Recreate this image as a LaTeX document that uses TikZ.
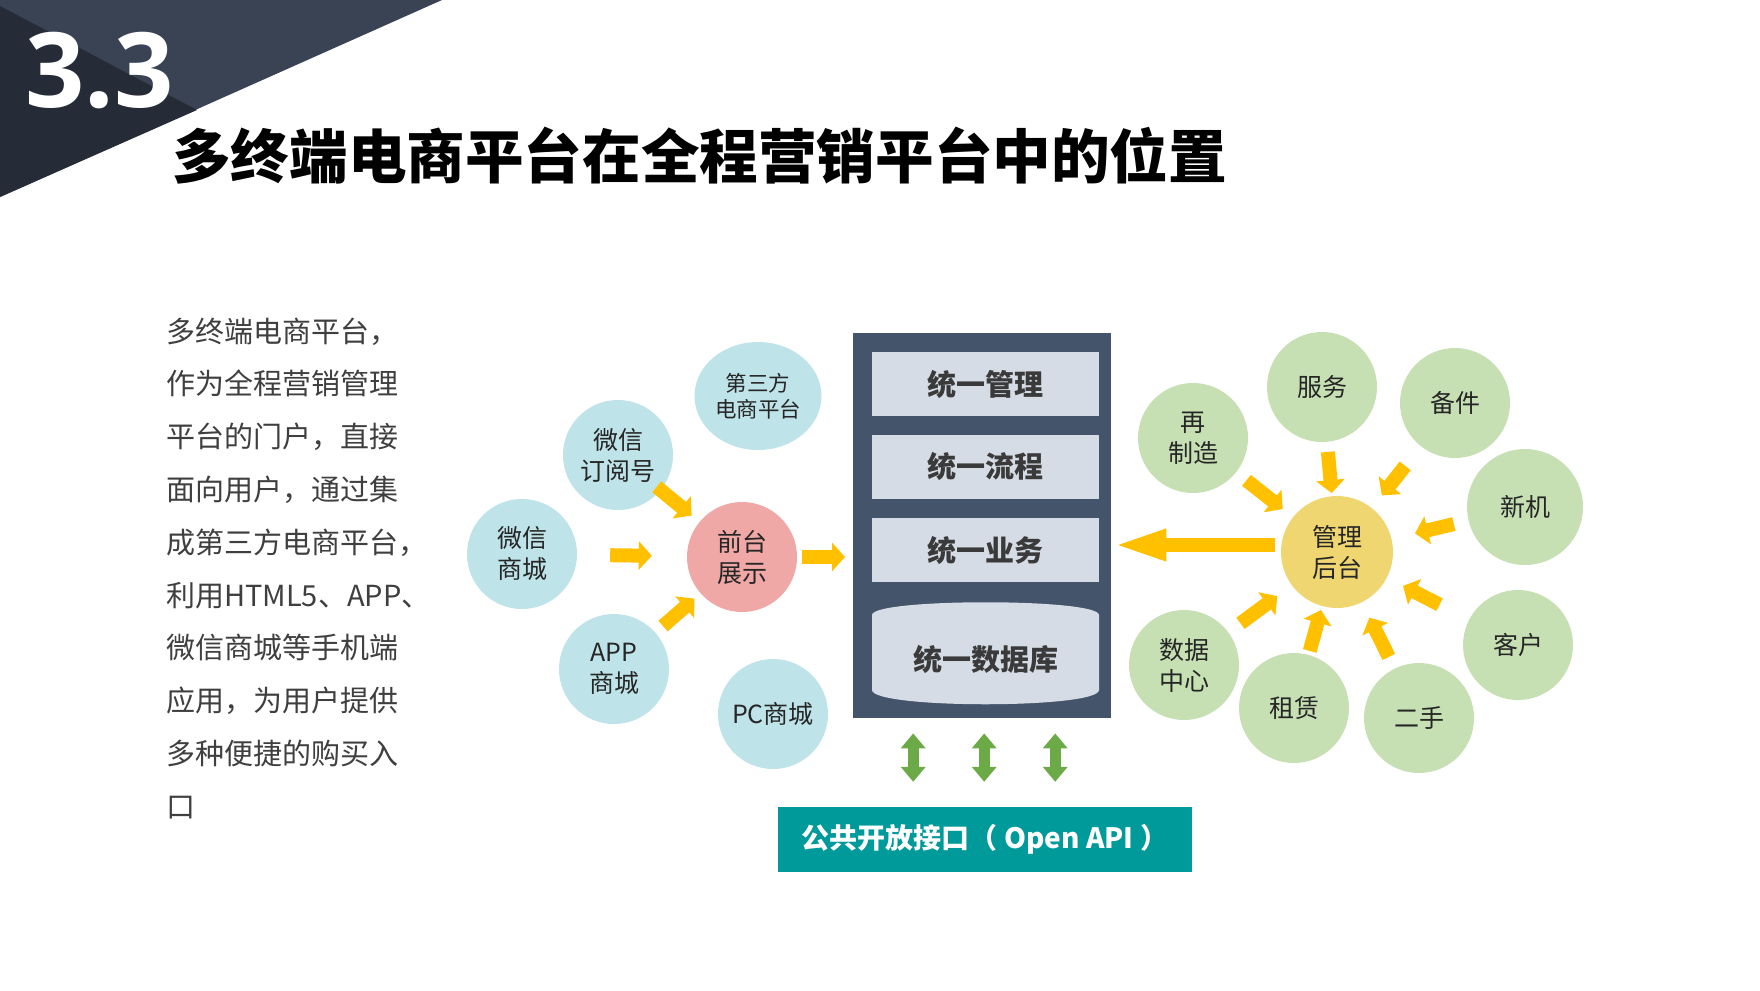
\documentclass[tikz,border=0pt]{standalone}
\usepackage{fontspec}
\setmainfont{Noto Sans CJK SC}
\newfontfamily\numfont{Open Sans}
\usetikzlibrary{arrows.meta,calc,shapes.geometric}
\definecolor{bandlight}{HTML}{3A4354}
\definecolor{banddark}{HTML}{262C37}
\definecolor{lblue}{HTML}{BEE3E8}
\definecolor{pinkc}{HTML}{EFA8A6}
\definecolor{greenc}{HTML}{C6E0B4}
\definecolor{mgrc}{HTML}{EFD671}
\definecolor{yel}{HTML}{FFC000}
\definecolor{slate}{HTML}{44546A}
\definecolor{inner}{HTML}{D6DCE5}
\definecolor{tealc}{HTML}{009A9A}
\definecolor{grn}{HTML}{6CAA48}
\definecolor{boxtxt}{HTML}{3A3A3A}
\definecolor{bodytxt}{HTML}{3F3F3F}
\definecolor{ctxt}{HTML}{262626}
\begin{document}
\begin{tikzpicture}[x=1pt,y=-1pt,
  bubble/.style={circle, minimum size=110, inner sep=0, align=center, text=ctxt,
    font=\fontsize{25}{31}\selectfont},
  bluebub/.style={bubble, fill=lblue},
  greenbub/.style={bubble, fill=greenc},
  yarr/.style={draw=yel, line width=14, -{Triangle[length=13pt,width=28pt]}},
  bigarr/.style={draw=yel, line width=14, -{Triangle[length=55pt,width=28pt]}},
  garr/.style={draw=grn, line width=11, {Triangle[length=15pt,width=24pt]}-{Triangle[length=15pt,width=24pt]}},
  innerbox/.style={fill=inner, minimum width=227, minimum height=64, inner sep=0,
    text=boxtxt, font=\bfseries\fontsize{29}{29}\selectfont},
  bodyline/.style={anchor=base west, inner sep=0, text=bodytxt, font=\fontsize{29}{29}\selectfont}
]
\useasboundingbox (0,0) rectangle (1760,990);
\fill[white] (0,0) rectangle (1760,990);

% header band
\fill[bandlight] (0,0) -- (442,0) -- (0,197) -- cycle;
\fill[banddark] (0,6) -- (197,110) -- (0,197) -- cycle;
\node[anchor=base west, inner sep=0, text=white, font=\numfont\bfseries\fontsize{104}{104}\selectfont] (num) at (25,107) {3.3};
\node[anchor=west, inner sep=0, text=black, font=\bfseries\fontsize{58.6}{58.6}\selectfont] (title) at (172,156) {多终端电商平台在全程营销平台中的位置};

% body text
\foreach \t [count=\i] in {多终端电商平台，,作为全程营销管理,平台的门户，直接,面向用户，通过集,成第三方电商平台，,利用HTML5、APP、,微信商城等手机端,应用，为用户提供,多种便捷的购买入,口}
  \node[bodyline] (p\i) at (166,{342+52.8*(\i-1)}) {\t};

% left cluster
\node[ellipse, fill=lblue, minimum width=127, minimum height=108, inner sep=0, align=center, text=ctxt,
  font=\fontsize{21.5}{26}\selectfont] (tp) at (758,396) {第三方\\电商平台};
\node[bluebub] (wxdy) at (618,455) {微信\\订阅号};
\node[bluebub] (wxsc) at (522,554) {微信\\商城};
\node[bluebub] (app) at (614,669) {APP\\商城};
\node[bluebub] (pc) at (773,714) {PC商城};
\node[bubble, fill=pinkc] (qt) at (742,557) {前台\\展示};

% central stack
\node[fill=slate, minimum width=258, minimum height=385, inner sep=0, anchor=north west] (core) at (853,333) {};
\node[innerbox] (m1) at (985.5,384) {统一管理};
\node[innerbox] (m2) at (985.5,466.5) {统一流程};
\node[innerbox] (m3) at (985.5,550) {统一业务};
\fill[inner] (872,615) .. controls (872,598) and (1099,598) .. (1099,615) -- (1099,690)
  .. controls (1099,709) and (872,709) .. (872,690) -- cycle;
\node[inner sep=0, text=boxtxt, font=\bfseries\fontsize{29}{29}\selectfont] (db) at (985.5,659) {统一数据库};

% open api
\node[fill=tealc, minimum width=414, minimum height=65, inner sep=0, text=white,
  font=\bfseries\fontsize{28}{28}\selectfont] (api) at (985,839.5) {公共开放接口（ Open API ）};

% right cluster
\node[bubble, fill=mgrc, minimum size=112] (mgr) at (1337,552) {管理\\后台};
\node[greenbub] (fw) at (1322,387) {服务};
\node[greenbub] (bj) at (1455,403) {备件};
\node[greenbub] (zzz) at (1193,438) {再\\制造};
\node[greenbub, minimum size=116] (xj) at (1525,507) {新机};
\node[greenbub] (kh) at (1518,645) {客户};
\node[greenbub] (es) at (1419,718) {二手};
\node[greenbub] (zl) at (1294,708) {租赁};
\node[greenbub] (sj) at (1184,665) {数据\\中心};

% left arrows
\draw[yarr, shorten <=-5pt, shorten >=10pt] (wxdy) -- (qt);
\draw[yarr, shorten <=33pt, shorten >=35pt] (wxsc) -- (qt);
\draw[yarr, shorten <=10pt, shorten >=8pt] (app) -- (qt);
\draw[yarr, shorten <=5pt, shorten >=8pt] (qt) -- (qt -| core.west);

% right arrows
\draw[yarr, shorten <=10pt, shorten >=3pt] (fw) -- (mgr);
\draw[yarr, shorten <=25pt, shorten >=16pt] (bj) -- (mgr);
\draw[yarr, shorten <=15pt, shorten >=24pt] (xj) -- (mgr);
\draw[yarr, shorten <=33pt, shorten >=18pt] (kh) -- (mgr);
\draw[yarr, shorten <=13pt, shorten >=17pt] (es) -- (mgr);
\draw[yarr, shorten <=4pt, shorten >=4pt] (zl) -- (mgr);
\draw[yarr, shorten <=15pt, shorten >=18pt] (sj) -- (mgr);
\draw[yarr, shorten <=13pt, shorten >=13pt] (zzz) -- (mgr);
\draw[bigarr, shorten <=6pt] ([yshift=7pt]mgr.west) -- ([yshift=7pt]mgr.west -| core.east);

% green double arrows
\foreach \dx [count=\k] in {-69,2,73}
  \draw[garr, shorten <=15pt, shorten >=25pt] ([xshift=\dx pt]core.south) -- ([xshift=\dx pt]core.south |- api.north);
\end{tikzpicture}
\end{document}
